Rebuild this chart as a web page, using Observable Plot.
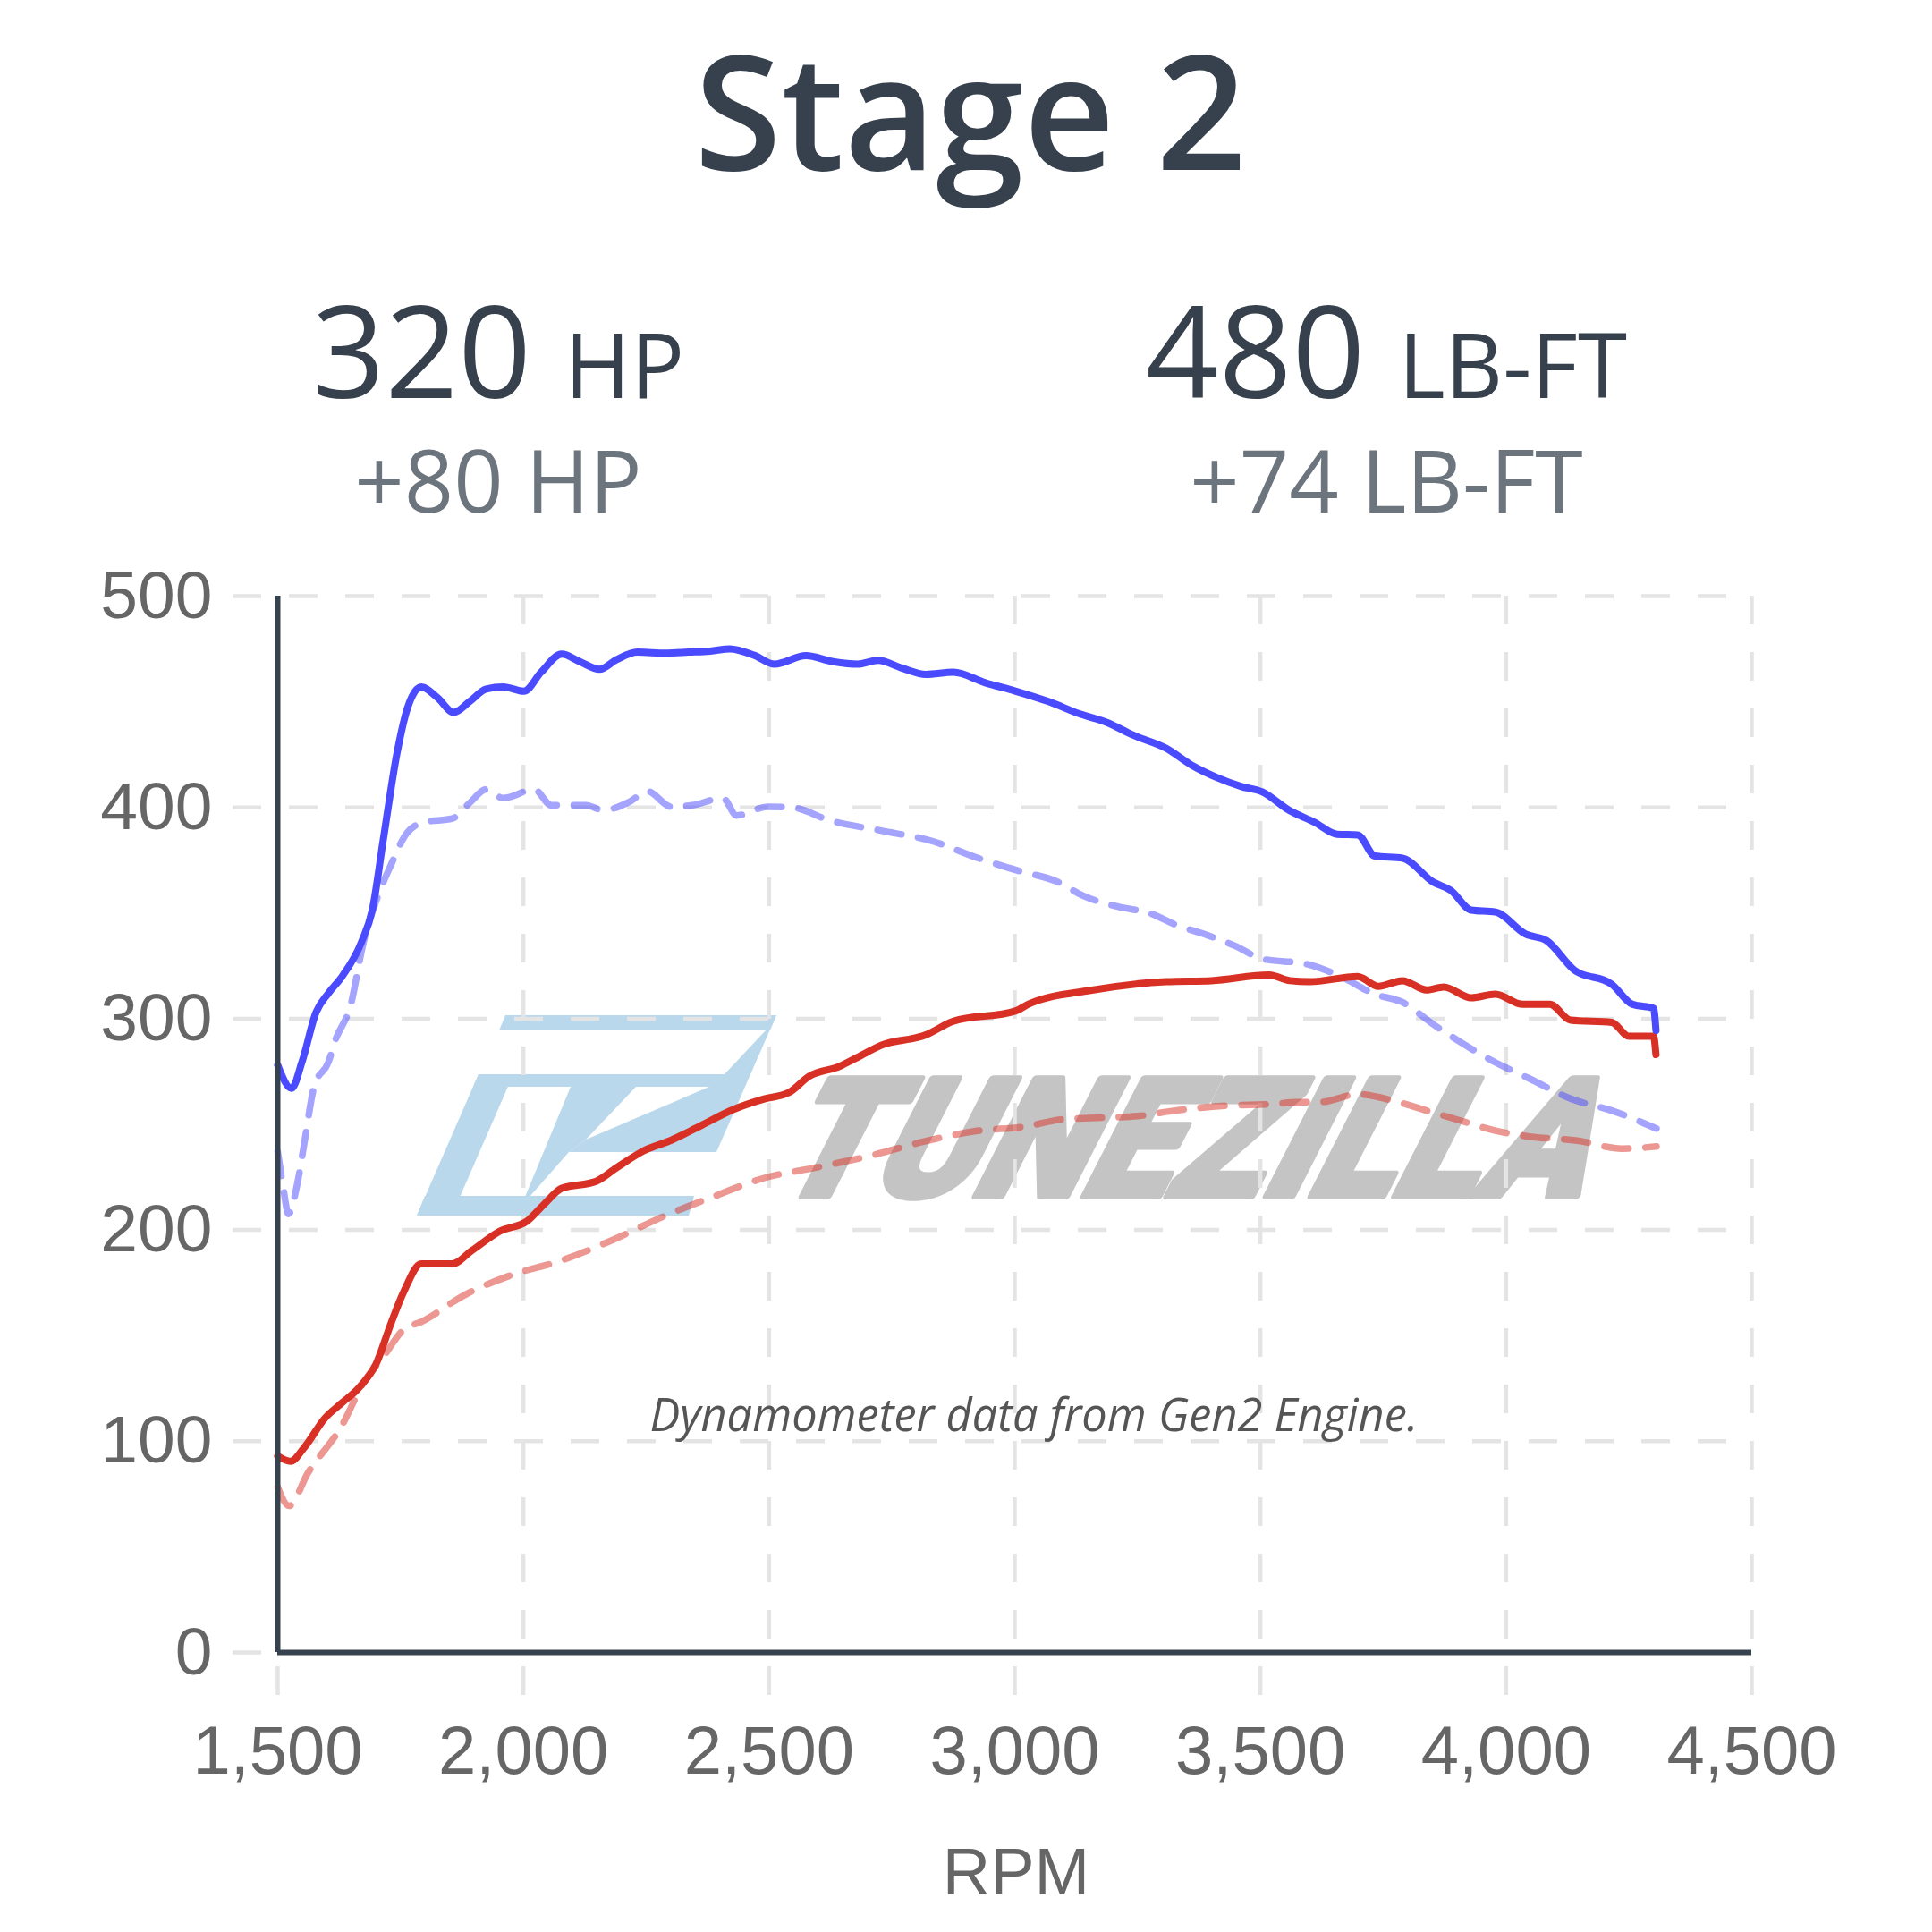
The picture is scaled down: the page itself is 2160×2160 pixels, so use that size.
<!DOCTYPE html>
<html>
<head>
<meta charset="utf-8">
<script src="https://cdn.jsdelivr.net/npm/d3@7"></script>
<script src="https://cdn.jsdelivr.net/npm/@observablehq/plot@0.6"></script>
<style>
html,body{margin:0;padding:0;background:#fff;}
#page{position:relative;width:2160px;height:2160px;overflow:hidden;font-family:"Open Sans",sans-serif;background:#fff;}
.abs{position:absolute;white-space:nowrap;line-height:1;z-index:3;}
#chart{position:absolute;left:0;top:600px;z-index:2;}
#wm{position:absolute;left:0;top:0;z-index:1;}
</style>
</head>
<body>
<div id="page">
  <svg id="wm" width="2160" height="2160" viewBox="0 0 2160 2160">
    <g fill="#b9d8ec">
      <polygon points="565,1135 868,1135 861,1152 558,1152"/>
      <polygon points="868,1135 801,1288 636,1288 655,1274 793,1215 810,1201 856,1152"/>
      <polygon points="535,1201 811,1201 805,1215 529,1215"/>
      <polygon points="638,1215 711,1215 655,1274 636,1288 592,1338 587,1338"/>
      <polygon points="535,1201 574,1201 505,1359 466,1359"/>
      <polygon points="475,1337 776,1337 770,1359 466,1359"/>
    </g>
    <text x="1539" y="1337" transform="skewX(-27)" font-family="Roboto, 'DejaVu Sans', sans-serif" font-weight="900" font-size="184" fill="#c4c4c4" stroke="#c4c4c4" stroke-width="8" stroke-linejoin="round" textLength="905" lengthAdjust="spacingAndGlyphs">TUNEZILLA</text>
  </svg>

  <div class="abs" style="left:10px;width:2150px;text-align:center;top:16px;line-height:1.2;font-size:177px;font-weight:600;color:#36414d">Stage 2</div>

  <div class="abs" style="left:107px;width:900px;text-align:center;top:318px;font-size:143px;color:#36414d">320 <span style="font-size:100px">HP</span></div>
  <div class="abs" style="left:1100px;width:900px;text-align:center;top:318px;font-size:143px;color:#36414d">480 <span style="font-size:100px">LB-FT</span></div>
  <div class="abs" style="left:107px;width:900px;text-align:center;top:487px;font-size:97px;color:#6c757d">+80 HP</div>
  <div class="abs" style="left:1100px;width:900px;text-align:center;top:487px;font-size:97px;color:#6c757d">+74 LB-FT</div>

  <div id="chart"></div>

  <div class="abs" style="left:456px;width:1400px;text-align:center;top:1556px;font-size:50.5px;font-style:italic;color:#555">Dynamometer data from Gen2 Engine.</div>
  <div class="abs" style="left:936px;width:400px;text-align:center;top:2056px;font-size:74px;font-family:'Liberation Sans',Arial,sans-serif;color:#666">RPM</div>
</div>

<script>
// Tick values
const rpmTicks = [1500, 2000, 2500, 3000, 3500, 4000, 4500];
const valueTicks = [0, 100, 200, 300, 400, 500];

// Stage 2 torque (lb-ft), [rpm, value]
const stage2Torque = [[1500,278],[1528,267],[1550,280],[1578,303],[1603,312],[1631,320],[1670,336],[1693,352],[1715,385],[1743,426],[1764,447],[1792,457],[1825,452],[1858,445],[1890,450],[1924,456],[1959,457],[2001,455],[2036,464],[2078,472.6],[2115,469],[2155,465.4],[2190,470],[2232,473.5],[2290,473],[2336,473.5],[2380,474],[2420,475],[2470,472],[2511,467.8],[2575,471.8],[2630,469],[2680,467.8],[2722,469.6],[2770,466],[2819,463],[2875,464],[2940,459],[3001,455.1],[3070,450],[3133,444.2],[3190,440],[3238,434.5],[3308,428],[3360,420],[3413,414],[3460,410],[3504,407.3],[3558,398.7],[3610,393],[3656,387.3],[3698,387],[3733,377],[3789,376],[3852,364.6],[3887,360.8],[3929,351.4],[3978,350.5],[4040,340],[4082,337],[4139,323],[4215,316.3],[4257,306.8],[4300,304.9],[4305,294.5]];

// Stock torque (lb-ft)
const stockTorque = [[1500,237],[1510,222],[1522,207.6],[1540,222],[1554,241],[1575,268.6],[1603,279.3],[1617,289.6],[1649,306.9],[1673,334.5],[1708,360.5],[1729,372],[1764,388.2],[1799,393],[1855,394.7],[1890,402],[1924,408.5],[1959,404.4],[2022,408.5],[2057,401],[2127,401],[2162,398.7],[2217,402.8],[2252,407.7],[2301,400.3],[2343,401],[2406,404.4],[2434,396.2],[2497,400.3],[2546,400],[2624,393.8],[2728,389],[2833,384],[2917,376.7],[3008,370],[3085,365],[3141,358],[3210,353],[3274,350],[3329,344.3],[3392,339.5],[3448,334.5],[3504,328.3],[3593,325.9],[3663,320],[3733,311.6],[3789,307.8],[3852,297.3],[3908,288.8],[3978,279.3],[4047,271.7],[4131,262.2],[4215,256.5],[4306,248]];

// Stage 2 horsepower
const stage2Power = [[1500,93],[1526,90.5],[1554,97],[1596,110.9],[1630,118],[1666,125.5],[1701,137],[1729,154.8],[1757,171],[1792,184],[1855,184],[1896,190.4],[1952,199.4],[2008,204.3],[2043,212.4],[2078,219.7],[2148,223],[2190,229.5],[2246,237.6],[2301,242.5],[2358,249],[2427,257],[2490,262],[2540,265],[2582,272.8],[2644,277.5],[2680,281.7],[2728,287.4],[2819,292.3],[2875,298.8],[3001,303.6],[3029,307],[3154,313.4],[3308,317.5],[3400,318],[3518,320.7],[3560,318],[3600,317.5],[3698,320],[3740,315.3],[3789,318],[3838,313.6],[3873,315],[3929,309.9],[3978,311.6],[4034,306.8],[4089,306.8],[4131,299.3],[4215,298.3],[4250,291.7],[4300,291.7],[4305,283]];

// Stock horsepower
const stockPower = [[1500,78.3],[1523,69.4],[1561,84.8],[1631,107.6],[1673,127],[1715,140],[1757,153],[1792,156.5],[1882,169.4],[1980,179],[2078,185.6],[2183,195.4],[2288,206.7],[2386,215.7],[2490,224.6],[2597,229.6],[2709,235.3],[2814,241.8],[2918,246.7],[3023,249],[3099,252.4],[3183,253.2],[3254,254],[3323,256.4],[3428,258.8],[3533,259.7],[3573,260.5],[3620,260.5],[3698,264.2],[3768,261.3],[3838,256.5],[3908,251.7],[3978,247],[4047,244.2],[4145,242.3],[4236,238.5],[4306,239.5]];

const blue = "#4a4aff";
const red = "#d93025";
const gridStyle = {stroke: "#e4e4e4", strokeOpacity: 1, strokeWidth: 4.5, strokeDasharray: "32,31"};
const X = d => d[0], Y = d => d[1];

const chart = Plot.plot({
  width: 2160,
  height: 1420,
  marginLeft: 310,
  marginRight: 202,
  marginTop: 66,
  marginBottom: 173,
  style: {background: "transparent", fontFamily: "'Liberation Sans', Arial, sans-serif"},
  x: {domain: [1500, 4500]},
  y: {domain: [0, 500]},
  marks: [
    Plot.gridY(valueTicks, {...gridStyle, insetLeft: -50}),
    Plot.gridX(rpmTicks, {...gridStyle, insetBottom: -51}),
    Plot.axisY(valueTicks, {tickSize: 0, tickPadding: 73, fontSize: 75, fill: "#666", label: null}),
    Plot.axisX(rpmTicks, {tickSize: 0, tickPadding: 82, fontSize: 76, fill: "#666", label: null, tickFormat: d3.format(",")}),
    Plot.line(stockTorque, {x: X, y: Y, stroke: blue, strokeOpacity: 0.5, strokeWidth: 7.5, strokeDasharray: "27,19", curve: "monotone-x"}),
    Plot.line(stockPower, {x: X, y: Y, stroke: red, strokeOpacity: 0.5, strokeWidth: 7.5, strokeDasharray: "27,19", curve: "monotone-x"}),
    Plot.line(stage2Power, {x: X, y: Y, stroke: red, strokeWidth: 8, curve: "monotone-x"}),
    Plot.line(stage2Torque, {x: X, y: Y, stroke: blue, strokeWidth: 8, curve: "monotone-x"}),
    Plot.ruleX([1500], {y1: 0, y2: 500, stroke: "#37424f", strokeWidth: 6}),
    Plot.ruleY([0], {x1: 1500, x2: 4500, stroke: "#37424f", strokeWidth: 6})
  ]
});
document.getElementById("chart").appendChild(chart);
</script>
</body>
</html>
